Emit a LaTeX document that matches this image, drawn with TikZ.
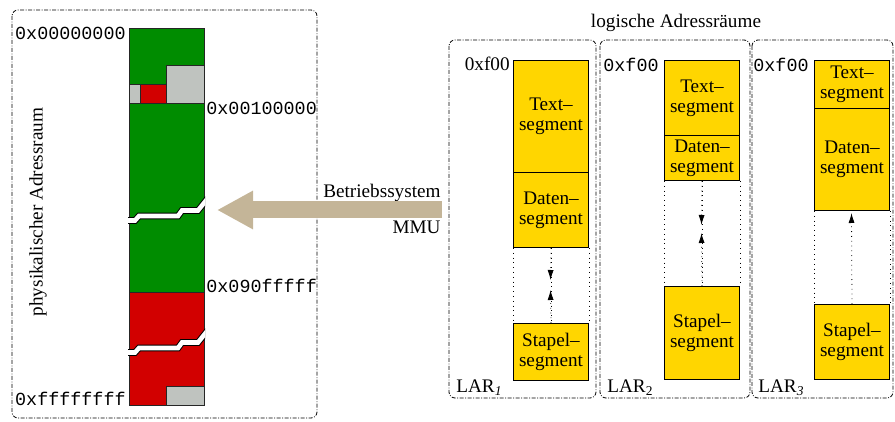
\documentclass[tikz,border=0pt]{standalone}
\usepackage{fontspec}
\setmainfont{Liberation Serif}
\setmonofont{Liberation Mono}
\usetikzlibrary{arrows.meta}
\definecolor{memgreen}{RGB}{0,140,0}
\definecolor{memred}{RGB}{210,0,0}
\definecolor{memgray}{RGB}{191,195,191}
\definecolor{segyellow}{RGB}{255,214,0}
\definecolor{osbrown}{RGB}{196,181,152}
\begin{document}
\begin{tikzpicture}[x=0.5pt, y=-0.5pt, font=\fontsize{9.6}{10}\selectfont,
    lar/.style={draw, dash pattern=on 2pt off 0.8pt on 0.4pt off 0.8pt,
      rounded corners=3pt, line width=0.4pt},
    seg/.style={draw, fill=segyellow, anchor=north west, inner sep=0pt,
      minimum width=37.5pt, align=center, line width=0.5pt},
    gap/.style={dotted, line width=0.4pt},
    gaptip/.style={dotted, line width=0.4pt, -{Latex[length=5pt,width=3pt]}},
    addr/.style={font=\fontsize{9.2}{10}\selectfont\ttfamily, inner sep=0pt},
    txt/.style={inner sep=0pt},
    mem/.style={draw=black!85, line width=0.5pt},
    crack/.style={line width=0.5pt, double=white, double distance=2.3pt},
    bigarrow/.style={draw=osbrown, line width=8.5pt, -{Triangle[length=18pt,width=18pt]}}]
  \useasboundingbox (0,0) rectangle (895,422);

  % physikalischer Adressraum
  \draw[lar] (12,10) rectangle (317,418);
  \node[txt, rotate=90] (phys) at (38,212) {physikalischer Adressraum};

  \fill[memgreen] (129,29) rectangle (204,293);
  \filldraw[mem, fill=memgray] (166,66) rectangle (204,104);
  \filldraw[mem, fill=memgray] (129,85) rectangle (140,104);
  \filldraw[mem, fill=memred] (140,85) rectangle (166,104);
  \draw[mem] (129,29) rectangle (204,293);
  \filldraw[mem, fill=memred] (129,293) rectangle (204,406);
  \filldraw[mem, fill=memgray] (166,387) rectangle (204,406);

  \begin{scope}
    \clip (128,0) rectangle (205,422);
    \draw[crack] (120,220.5) -- (135,220.5) -- (139,216) -- (178,216)
      -- (182,210.5) -- (198,210.5) -- (204,203) -- (212,193);
    \draw[crack, shift={(0,132)}] (120,220.5) -- (135,220.5) -- (139,216) -- (178,216)
      -- (182,210.5) -- (198,210.5) -- (204,203) -- (212,193);
  \end{scope}

  \node[addr, anchor=base east] (a0) at (126,40) {0x00000000};
  \node[addr, anchor=base west] (a1) at (206,115) {0x00100000};
  \node[addr, anchor=base west] (a2) at (206,293) {0x090fffff};
  \node[addr, anchor=base east] (a3) at (126,406) {0xffffffff};

  % Betriebssystem / MMU
  \node[txt, anchor=base east] (os) at (441,198) {Betriebssystem};
  \node[txt, anchor=base east] (mmu) at (441,234) {MMU};
  \coordinate (osend) at (442,210);
  \coordinate (memtip) at (217,210);
  \draw[bigarrow] (osend) -- (memtip);

  % logische Adressraeume
  \node[txt, anchor=base] (logtitle) at (676,28) {logische Adressräume};
  \draw[lar] (449,40) rectangle (596,398);
  \draw[lar] (600,40) rectangle (750,398);
  \draw[lar] (752,40) rectangle (893,398);

  \node[txt, anchor=base east] (f1) at (510,71) {0xf00};
  \node[addr, anchor=base east] (f2) at (659,72) {0xf00};
  \node[addr, anchor=base east] (f3) at (809,72) {0xf00};

  \node[txt, anchor=base west] (lar1) at (456,393) {LAR\textsubscript{\textit{1}}};
  \node[txt, anchor=base west] (lar2) at (607,393) {LAR\textsubscript{2}};
  \node[txt, anchor=base west] (lar3) at (758,393) {LAR\textsubscript{\textit{3}}};

  % LAR 1
  \node[seg, minimum height=56pt] (t1) at (513,60) {Text--\\segment};
  \node[seg, minimum height=37.5pt] (d1) at (513,172) {Daten--\\segment};
  \node[seg, minimum height=28.5pt] (s1) at (513,323) {Stapel--\\segment};
  \coordinate (dn1) at (550.5,280);
  \coordinate (up1) at (550.5,290);
  \draw[gap] (d1.south west) -- (s1.north west);
  \draw[gap] (d1.south east) -- (s1.north east);
  \draw[gap] (d1.south) -- (s1.north);
  \draw[gaptip] (d1.south) -- (dn1);
  \draw[gaptip] (s1.north) -- (up1);

  % LAR 2
  \node[seg, minimum height=37.5pt] (t2) at (664,60) {Text--\\segment};
  \node[seg, minimum height=22.5pt] (d2) at (664,135) {Daten--\\segment};
  \node[seg, minimum height=46.5pt] (s2) at (664,286) {Stapel--\\segment};
  \coordinate (dn2) at (701.5,225);
  \coordinate (up2) at (701.5,233);
  \draw[gap] (d2.south west) -- (s2.north west);
  \draw[gap] (d2.south east) -- (s2.north east);
  \draw[gap] (d2.south) -- (s2.north);
  \draw[gaptip] (d2.south) -- (dn2);
  \draw[gaptip] (s2.north) -- (up2);

  % LAR 3
  \node[seg, minimum height=24pt] (t3) at (814,60) {Text--\\segment};
  \node[seg, minimum height=51pt] (d3) at (814,108) {Daten--\\segment};
  \node[seg, minimum height=37.5pt] (s3) at (814,304) {Stapel--\\segment};
  \coordinate (up3) at (851.5,213);
  \draw[gap] (d3.south west) -- (s3.north west);
  \draw[gap] (d3.south east) -- (s3.north east);
  \draw[gaptip] (s3.north) -- (up3);
\end{tikzpicture}
\end{document}
